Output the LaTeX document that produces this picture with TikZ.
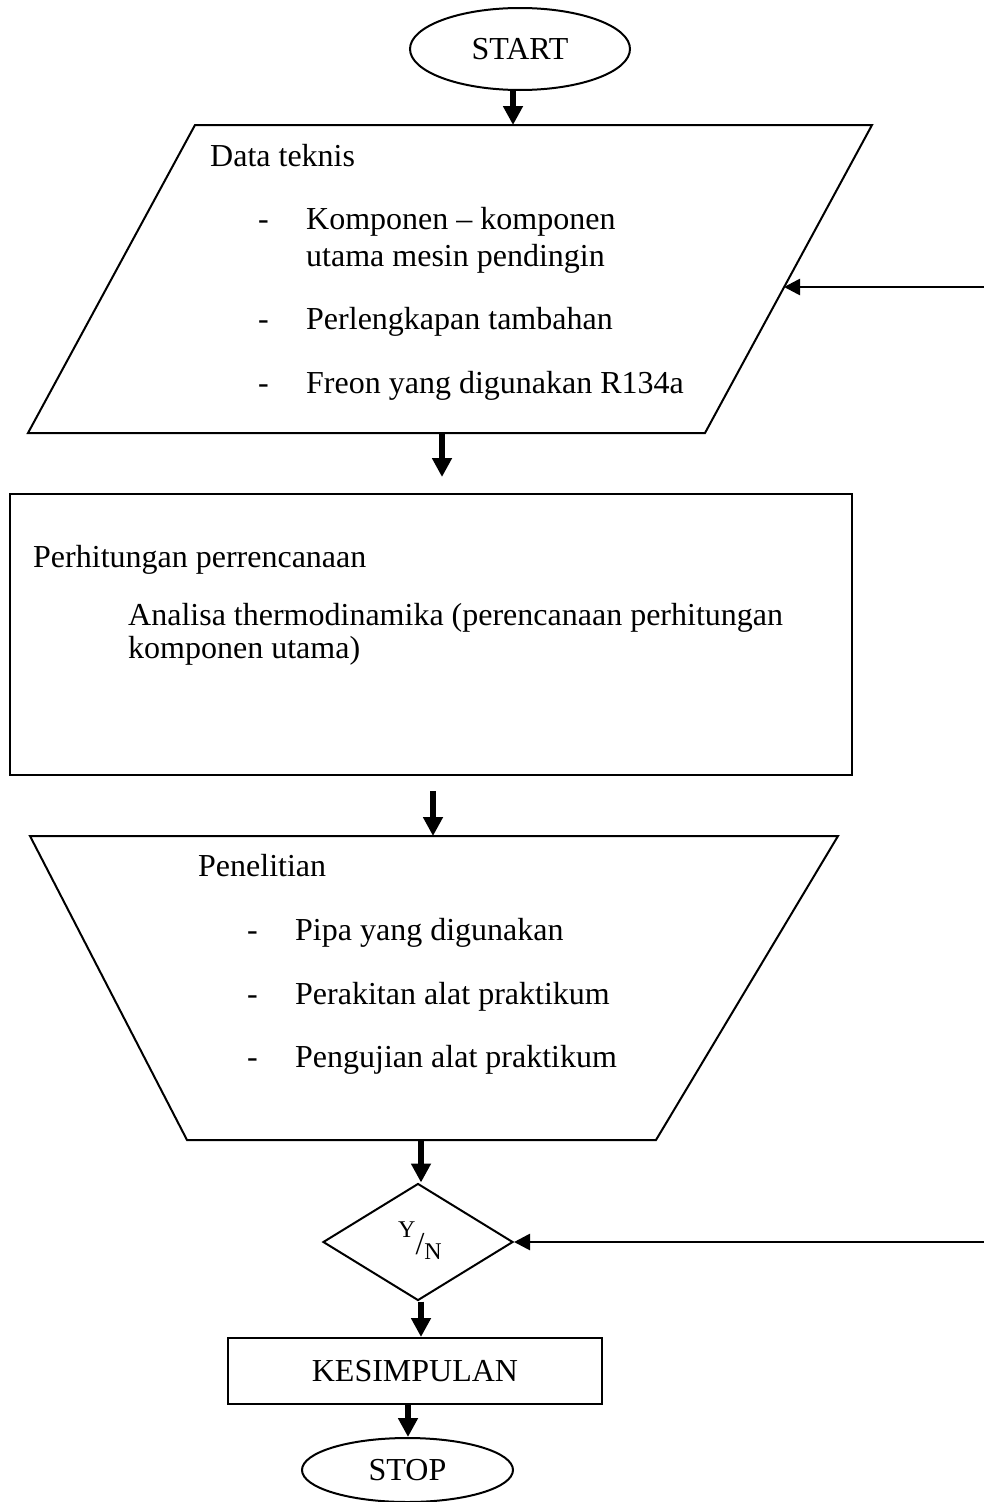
\documentclass[tikz,border=0pt]{standalone}
\usepackage{fontspec}
\setmainfont{Liberation Serif}
\usetikzlibrary{shapes.geometric,arrows.meta}
\begin{document}
\begin{tikzpicture}[x=1pt,y=-1pt,
  every node/.style={font=\fontsize{32}{38}\selectfont},
  txt/.style={anchor=base west,inner sep=0pt},
  outline/.style={draw,line width=2pt},
  bigarrow/.style={line width=6pt,-{Triangle[width=19pt,length=19pt]}},
  sidearrow/.style={line width=2.7pt,-{Triangle[width=16pt,length=16pt]}}]
\useasboundingbox (0,0) rectangle (984,1502);

% START
\node[ellipse,outline,minimum width=220pt,minimum height=82pt,inner sep=0pt] (start) at (520,49) {START};

% Data teknis (parallelogram)
\draw[outline] (195,125) coordinate (dTL) -- (872,125) coordinate (dTR) -- (705,433) coordinate (dBR) -- (28,433) coordinate (dBL) -- cycle;
\coordinate (dR) at (784,287);
\coordinate (dB) at (442,433);
\node[txt] (t1) at (210,166) {Data teknis};
\node[txt] (t2d) at (258,229) {-};
\node[txt] (t2) at (306,229) {Komponen – komponen};
\node[txt] (t3) at (306,266) {utama mesin pendingin};
\node[txt] (t4d) at (258,329) {-};
\node[txt] (t4) at (306,329) {Perlengkapan tambahan};
\node[txt] (t5d) at (258,393) {-};
\node[txt] (t5) at (306,393) {Freon yang digunakan R134a};

% Perhitungan (rectangle)
\node[outline,minimum width=842pt,minimum height=281pt,inner sep=0pt] (perh) at (431,634.5) {};
\node[txt] (p1) at (33,567) {Perhitungan perrencanaan};
\node[txt] (p2) at (128,625) {Analisa thermodinamika (perencanaan perhitungan};
\node[txt] (p3) at (128,658) {komponen utama)};

% Penelitian (trapezoid)
\draw[outline] (30,836) coordinate (tTL) -- (838,836) coordinate (tTR) -- (656,1140) coordinate (tBR) -- (187,1140) coordinate (tBL) -- cycle;
\coordinate (tB) at (421,1140);
\node[txt] (n1) at (198,876) {Penelitian};
\node[txt] (n2d) at (247,940) {-};
\node[txt] (n2) at (295,940) {Pipa yang digunakan};
\node[txt] (n3d) at (247,1004) {-};
\node[txt] (n3) at (295,1004) {Perakitan alat praktikum};
\node[txt] (n4d) at (247,1067) {-};
\node[txt] (n4) at (295,1067) {Pengujian alat praktikum};

% Decision
\node[diamond,outline,minimum width=190pt,minimum height=117pt,inner sep=0pt] (yn) at (418,1242) {};
\node[anchor=base,inner sep=0pt] (yntxt) at (420,1254) {\raisebox{17pt}{\fontsize{24}{24}\selectfont Y}/\raisebox{-5pt}{\fontsize{24}{24}\selectfont N}};

% KESIMPULAN
\node[outline,minimum width=374pt,minimum height=66pt,inner sep=0pt] (kes) at (415,1371) {KESIMPULAN};

% STOP
\node[ellipse,outline,minimum width=211pt,minimum height=64pt,inner sep=0pt] (stop) at (407.5,1470) {STOP};

% free ends on the right
\coordinate (rin1) at (984,287);
\coordinate (rin2) at (984,1242);

% connectors
\draw[bigarrow] ([xshift=-7pt]start.south) -- ([xshift=-7pt]start.south |- dTL);
\draw[bigarrow,shorten >=16pt] (dB) -- (dB |- perh.north);
\draw[bigarrow,shorten <=15pt] ([xshift=2pt]perh.south) -- ([xshift=2pt]perh.south |- tTL);
\draw[bigarrow] (tB) -- (tB |- yn.north);
\draw[bigarrow] ([xshift=3pt]yn.south) -- ([xshift=3pt]yn.south |- kes.north);
\draw[bigarrow] ([xshift=-7pt]kes.south) -- ([xshift=-7pt]kes.south |- stop.north);
\draw[sidearrow] (rin1) -- (dR);
\draw[sidearrow] (rin2) -- (yn.east);
\end{tikzpicture}
\end{document}
